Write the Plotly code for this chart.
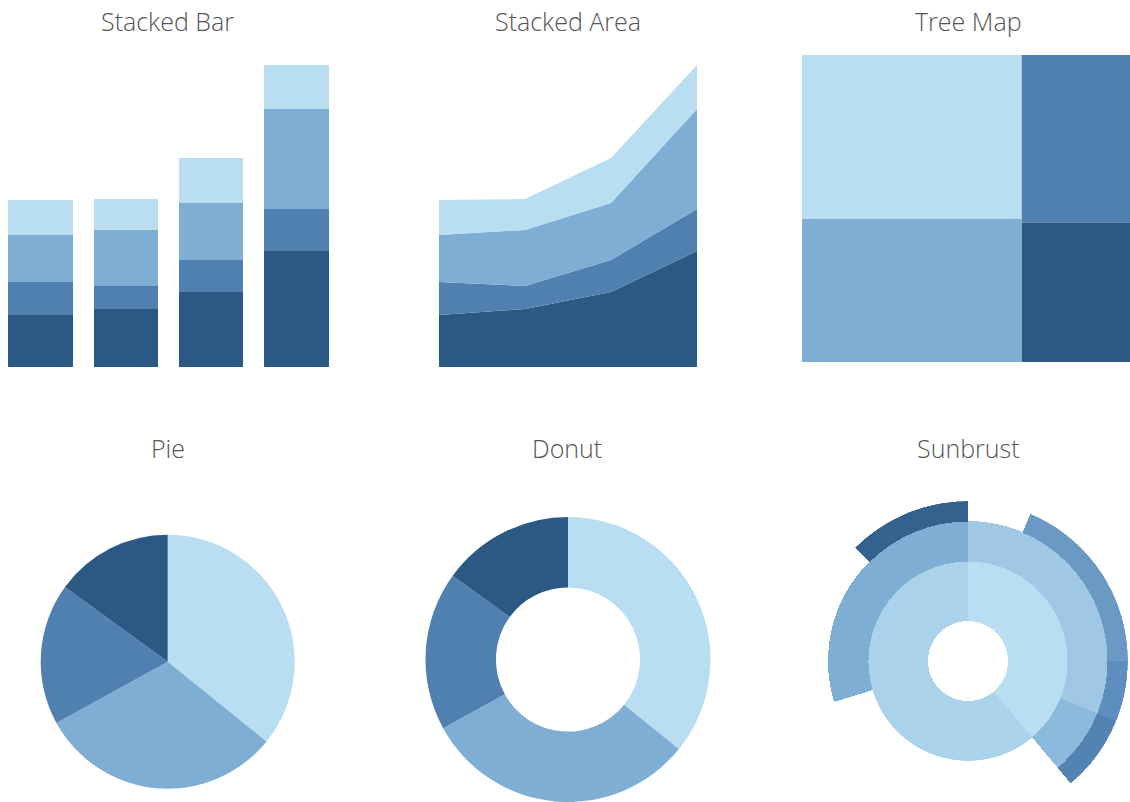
import math
import plotly.graph_objects as go

W, H = 1130, 802

# ---------------- data ----------------
categories = ["A", "B", "C", "D"]
dark_vals = [52, 58, 75, 116]
mid_vals = [33, 23, 32, 42]
lightmid_vals = [47, 56, 57, 100]
light_vals = [35, 31, 45, 44]

part_labels = ["P1", "P2", "P3", "P4"]
part_values = [35.8, 31.2, 18.0, 15.0]

tm_ids = ["Total", "G1", "G2", "P1", "P2", "P3", "P4"]
tm_parents = ["", "Total", "Total", "G1", "G1", "G2", "G2"]

# sunburst rings: start / end angles in degrees (clockwise from top)
ring1_start = [0, 140]
ring1_end = [140, 360]
ring2_start = [0, 112, 253]
ring2_end = [112, 140, 360]
ring3_start = [23, 90, 112, 315]
ring3_end = [90, 112, 140, 360]

titles = ["Stacked Bar", "Stacked Area", "Tree Map", "Pie", "Donut", "Sunbrust"]

# ---------------- styles ----------------
C_LIGHT = "#B9DDF1"
C_LMID = "#7FAED4"
C_MID = "#4F80AF"
C_DARK = "#2C5884"
series_colors = [C_DARK, C_MID, C_LMID, C_LIGHT]
part_colors = [C_LIGHT, C_LMID, C_MID, C_DARK]
ring1_colors = ["#B9DDF1", "#ABD2EB"]
ring2_colors = ["#A0C8E5", "#8DBADC", "#7FAED4"]
ring3_colors = ["#6A99C4", "#5E8EBD", "#5283B2", "#34628F"]


def px_x(x0, x1):
    return [x0 / W, x1 / W]


def px_y(top, bottom):
    return [max(0.0, 1 - bottom / H), min(1.0, 1 - top / H)]


fig = go.Figure()

# ---------------- stacked bar ----------------
series = [dark_vals, mid_vals, lightmid_vals, light_vals]
for vals, col in zip(series, series_colors):
    fig.add_trace(go.Bar(x=categories, y=vals, marker=dict(color=col, line=dict(width=0)),
                         xaxis="x", yaxis="y", hoverinfo="skip"))

# ---------------- stacked area ----------------
for vals, col in zip(series, series_colors):
    fig.add_trace(go.Scatter(x=categories, y=vals, stackgroup="area", mode="none",
                             fillcolor=col, line=dict(width=0),
                             xaxis="x2", yaxis="y2", hoverinfo="skip"))

# ---------------- tree map ----------------
g1 = part_values[0] + part_values[1]
g2 = part_values[2] + part_values[3]
tm_values = [g1 + g2, g1, g2] + part_values
fig.add_trace(go.Treemap(
    ids=tm_ids, labels=tm_ids, parents=tm_parents, values=tm_values,
    branchvalues="total", sort=False, textinfo="none", hoverinfo="skip",
    tiling=dict(packing="slice-dice", pad=0),
    pathbar=dict(visible=False),
    marker=dict(colors=["white", "white", "white"] + part_colors,
                line=dict(width=0), pad=dict(t=0, l=0, r=0, b=0), depthfade=False),
    domain=dict(x=px_x(802, 1130), y=px_y(55, 362)),
))

# ---------------- pie ----------------
fig.add_trace(go.Pie(labels=part_labels, values=part_values, sort=False,
                     direction="clockwise", rotation=0, textinfo="none", hoverinfo="skip",
                     marker=dict(colors=part_colors, line=dict(width=0)),
                     domain=dict(x=px_x(167.7 - 127, 167.7 + 127), y=px_y(661.7 - 127, 661.7 + 127))))

# ---------------- donut ----------------
fig.add_trace(go.Pie(labels=part_labels, values=part_values, sort=False, hole=0.506,
                     direction="clockwise", rotation=0, textinfo="none", hoverinfo="skip",
                     marker=dict(colors=part_colors, line=dict(width=0)),
                     domain=dict(x=px_x(568 - 144, 568 + 144), y=px_y(661 - 144, 661 + 144))))

# ---------------- sunburst (barpolar rings) ----------------
SB_CX, SB_CY = 968, 661
R_HOLE, R1, R2, R3 = 40, 100, 140, 160


def ring(starts, ends, base, thick, colors, subplot):
    fig.add_trace(go.Barpolar(
        theta=[(s + e) / 2 for s, e in zip(starts, ends)],
        width=[e - s for s, e in zip(starts, ends)],
        r=[thick] * len(starts), base=[base] * len(starts),
        marker=dict(color=colors, line=dict(width=0)),
        subplot=subplot, hoverinfo="skip"))


ring(ring1_start, ring1_end, R_HOLE, R1 - R_HOLE, ring1_colors, "polar")
ring(ring2_start, ring2_end, R1 - 0.5, R2 - R1 + 0.5, ring2_colors, "polar2")
ring(ring3_start, ring3_end, R2 - 0.5, R3 - R2 + 0.5, ring3_colors, "polar2")


def sector_bbox(sector):
    s0, s1 = sector
    arc = s1 - s0
    a0 = s0 % 360
    a1 = a0 + arc
    ax0, ay0 = math.cos(math.radians(a0)), math.sin(math.radians(a0))
    ax1, ay1 = math.cos(math.radians(a1)), math.sin(math.radians(a1))
    if (a0 <= 90 and a1 >= 90) or (a0 > 90 and a1 >= 450):
        y1 = 1
    elif ay0 <= 0 and ay1 <= 0:
        y1 = 0
    else:
        y1 = max(ay0, ay1)
    if (a0 <= 180 and a1 >= 180) or (a0 > 180 and a1 >= 540):
        x0 = -1
    elif ax0 >= 0 and ax1 >= 0:
        x0 = 0
    else:
        x0 = min(ax0, ax1)
    if (a0 <= 270 and a1 >= 270) or (a0 > 270 and a1 >= 630):
        y0 = -1
    elif ay0 >= 0 and ay1 >= 0:
        y0 = 0
    else:
        y0 = min(ay0, ay1)
    if a1 >= 360:
        x1 = 1
    elif ax0 <= 0 and ax1 <= 0:
        x1 = 0
    else:
        x1 = max(ax0, ax1)
    return x0, y0, x1, y1


# outer sector: compass angles 253 -> 360 -> 140, converted to math angles
sec = [90 - 140 - 2, 90 - 253 + 360 + 2]
bx0, by0, bx1, by1 = sector_bbox(sec)

polar_common = dict(
    bgcolor="rgba(0,0,0,0)",
    angularaxis=dict(visible=False, rotation=90, direction="clockwise"),
)
layout_polar = dict(
    domain=dict(x=px_x(SB_CX - R1, SB_CX + R1), y=px_y(SB_CY - R1, SB_CY + R1)),
    radialaxis=dict(visible=False, range=[0, R1]),
    **polar_common)
layout_polar2 = dict(
    domain=dict(x=px_x(SB_CX + bx0 * R3, SB_CX + bx1 * R3), y=px_y(SB_CY - by1 * R3, SB_CY - by0 * R3)),
    radialaxis=dict(visible=False, range=[0, R3]),
    sector=sec,
    **polar_common)

# ---------------- titles ----------------
title_pos = [(167.5, 21), (568, 21), (968, 21), (168, 448), (567.5, 448), (968, 448)]
annotations = [dict(text=t, x=x / W, y=1 - y / H, xref="paper", yref="paper",
                    xanchor="center", yanchor="middle", showarrow=False,
                    font=dict(family="Open Sans", size=25, weight=300, color="#555555"))
               for t, (x, y) in zip(titles, title_pos)]

hidden = dict(visible=False, fixedrange=True)
fig.update_layout(
    width=W, height=H, margin=dict(l=0, r=0, t=0, b=0),
    paper_bgcolor="white", plot_bgcolor="white", showlegend=False,
    barmode="stack", bargap=0.245,
    xaxis=dict(domain=px_x(0, 339), range=[-0.475, 3.5], **hidden),
    yaxis=dict(domain=px_y(62, 367), range=[0, 305], **hidden),
    xaxis2=dict(domain=px_x(439, 697), range=[0, 3], **hidden),
    yaxis2=dict(domain=px_y(62, 367), range=[0, 305], **hidden),
    polar=layout_polar, polar2=layout_polar2,
    annotations=annotations,
)

fig.write_html("out.html")
